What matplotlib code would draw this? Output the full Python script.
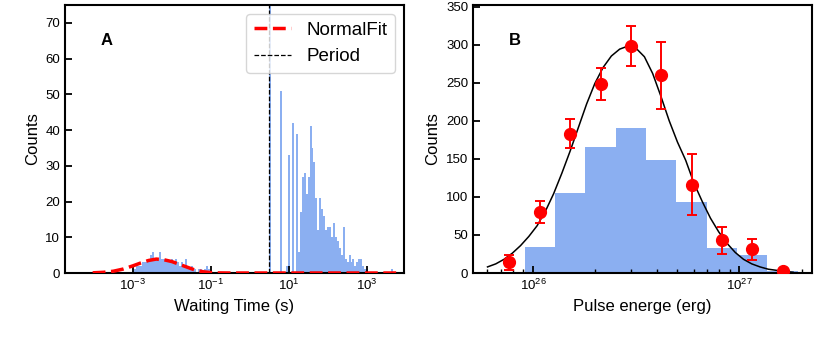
import numpy as np
import matplotlib
matplotlib.use("Agg")
import matplotlib.pyplot as plt
from matplotlib.ticker import NullLocator

plt.rcParams['font.family'] = ['Liberation Sans', 'DejaVu Sans']
plt.rcParams['mathtext.default'] = 'regular'

# ---- panel A: waiting-time histogram (log10 bins of equal width) ----
bin_step = 0.05
burst_start = -3.02
burst_counts = [1, 1, 2, 2, 2, 3, 3, 3, 4, 5, 6, 4, 4, 4, 6, 4, 4, 4, 3, 3,
                4, 3, 4, 3, 2, 3, 2, 4, 2, 1, 2, 1, 1, 0, 1, 1, 0, 1, 2, 1]
main_start = 0.78
main_counts = [51, 0, 0, 2, 33, 0, 42, 0, 39, 6, 17, 27, 28, 22, 27, 41, 35, 31,
               21, 12, 21, 18, 16, 12, 13, 13, 10, 14, 10, 9, 7, 5, 13, 4, 3, 5,
               3, 4, 2, 3, 4, 4, 2, 1, 1]
period_start = 0.48
period_counts = [120]
tail_start = 3.63
tail_counts = [1]

period_s = 3.1

# normal fit (log10 of waiting time, counts)
fit_logt = [-4.03, -3.75, -3.5, -3.25, -3.0, -2.8, -2.6, -2.4, -2.2, -2.0,
            -1.8, -1.6, -1.4, -1.2, -1.0, -0.8, -0.5, 3.75]
fit_counts = [0.05, 0.2, 0.5, 1.1, 2.0, 2.8, 3.5, 3.9, 3.7, 3.2,
              2.4, 1.6, 0.8, 0.35, 0.12, 0.03, 0.0, 0.0]

# ---- panel B: pulse energy ----
energy_edges = [9.12e25, 1.279e26, 1.795e26, 2.518e26, 3.532e26, 4.955e26,
                6.95e26, 9.75e26, 1.368e27, 1.919e27]
energy_counts = [34, 105, 166, 190, 148, 93, 33, 23, 2]

point_energy = [7.67e25, 1.079e26, 1.514e26, 2.133e26, 2.979e26, 4.178e26,
                5.888e26, 8.22e26, 1.148e27, 1.622e27]
point_counts = [14, 80, 183, 248, 298, 260, 116, 43, 31, 2]
point_err = [10, 14, 19, 21, 26, 44, 40, 18, 14, 1.5]

# fitted curve (log10 of energy, counts)
curve_loge = [25.78, 25.82, 25.86, 25.90, 25.94, 25.98, 26.02, 26.06, 26.10,
              26.14, 26.18, 26.22, 26.26, 26.30, 26.34, 26.38, 26.42, 26.46,
              26.50, 26.54, 26.58, 26.62, 26.66, 26.70, 26.74, 26.78, 26.82,
              26.86, 26.90, 26.94, 26.98, 27.02, 27.06, 27.10, 27.14, 27.18,
              27.22, 27.26]
curve_counts = [8, 12, 18, 26, 36, 48, 62, 81, 104, 131, 160, 191, 222, 249,
                270, 285, 294, 298, 295, 284, 262, 232, 200, 172, 148, 118, 94,
                72, 54, 39, 27, 18, 12, 8, 5, 3.5, 2, 1]

bar_color = 'cornflowerblue'


def log_bars(ax, start, counts):
    lo = 10 ** (start + bin_step * np.arange(len(counts)))
    hi = lo * 10 ** bin_step
    ax.bar(lo, counts, width=hi - lo, align='edge', color=bar_color,
           alpha=0.75, linewidth=0)


def style_axes(ax):
    for s in ax.spines.values():
        s.set_linewidth(1.5)
    ax.tick_params(which='major', direction='in', length=5, width=1.3,
                   labelsize=9.5)
    ax.tick_params(which='minor', direction='in', length=3, width=1.0)


fig = plt.figure(figsize=(8.3, 3.41), dpi=100)
ax1 = fig.add_axes([0.0783, 0.1994, 0.4084, 0.786])
ax2 = fig.add_axes([0.570, 0.1994, 0.4084, 0.786])

# panel A
for start, counts in [(burst_start, burst_counts), (main_start, main_counts),
                      (period_start, period_counts), (tail_start, tail_counts)]:
    log_bars(ax1, start, counts)
ax1.plot(10 ** np.array(fit_logt), fit_counts, color='red', ls='--', lw=2.5,
         label='NormalFit', zorder=3)
ax1.axvline(period_s, color='black', ls='--', lw=0.9, label='Period', zorder=3)
ax1.set_xscale('log')
ax1.set_xlim(10 ** -4.74, 10 ** 3.95)
ax1.set_ylim(0, 75)
ax1.set_xticks([1e-3, 1e-1, 1e1, 1e3])
ax1.xaxis.set_minor_locator(NullLocator())
ax1.set_yticks(range(0, 71, 10))
ax1.set_xlabel('Waiting Time (s)', fontsize=12)
ax1.set_ylabel('Counts', fontsize=12)
ax1.legend(loc='upper right', fontsize=13.5)
ax1.text(0.124, 0.869, 'A', transform=ax1.transAxes, fontsize=12,
         fontweight='bold', ha='center', va='center')
style_axes(ax1)

# panel B
ax2.hist(energy_edges[:-1], bins=energy_edges, weights=energy_counts,
         color=bar_color, alpha=0.75)
ax2.plot(10 ** np.array(curve_loge), curve_counts, color='black', lw=1.1,
         zorder=3)
ax2.errorbar(point_energy, point_counts, yerr=point_err, fmt='o', color='red',
             ms=8.5, capsize=3.5, elinewidth=1.4, capthick=1.4, zorder=4)
ax2.set_xscale('log')
ax2.set_xlim(5.13e25, 2.25e27)
ax2.set_ylim(0, 352)
ax2.set_yticks(range(0, 351, 50))
ax2.set_xlabel('Pulse energe (erg)', fontsize=12)
ax2.set_ylabel('Counts', fontsize=12)
ax2.text(0.124, 0.869, 'B', transform=ax2.transAxes, fontsize=12,
         fontweight='bold', ha='center', va='center')
style_axes(ax2)

fig.savefig('out.png', dpi=100)
